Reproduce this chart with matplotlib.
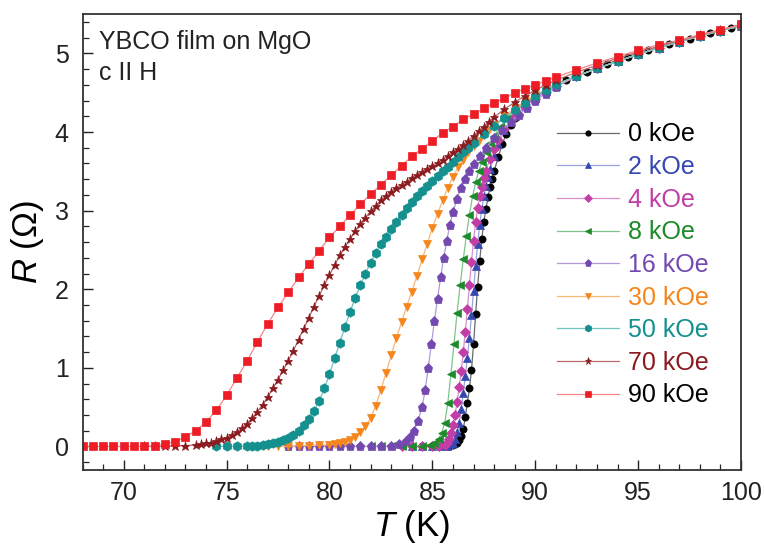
import matplotlib
matplotlib.use('Agg')
import matplotlib.pyplot as plt
from matplotlib.ticker import MultipleLocator

plt.rcParams['font.family'] = ['Liberation Sans', 'DejaVu Sans']
plt.rcParams['mathtext.fontset'] = 'custom'
plt.rcParams['mathtext.rm'] = 'Liberation Sans'
plt.rcParams['mathtext.it'] = 'Liberation Sans:italic'

# R(T) curves, one pair of lists per field
T_0 = [84.5, 85.0, 85.3, 85.6, 85.8, 86.0, 86.1, 86.2, 86.3, 86.4, 86.5, 86.6, 86.7, 86.8,
       86.9, 87.0, 87.1, 87.2, 87.3, 87.4, 87.5, 87.6, 87.7, 87.8, 87.9, 88.0, 88.2, 88.4,
       88.6, 88.8, 89.0, 89.5, 90.0, 90.5, 91.0, 91.5, 92.5, 93.5, 94.5, 95.5, 96.5, 97.5,
       98.5, 99.5]
R_0 = [0.0, 0.0, 0.0, 0.0, 0.01, 0.02, 0.03, 0.05, 0.08, 0.13, 0.22, 0.38, 0.55, 0.74,
       0.97, 1.30, 1.68, 2.03, 2.36, 2.64, 2.86, 3.02, 3.17, 3.30, 3.40, 3.50, 3.68, 3.85,
       3.98, 4.09, 4.18, 4.34, 4.45, 4.53, 4.60, 4.66, 4.77, 4.87, 4.96, 5.04, 5.12, 5.19,
       5.26, 5.33]

T_2 = [84.0, 84.5, 85.0, 85.4, 85.7, 85.9, 86.0, 86.1, 86.2, 86.3, 86.4, 86.5, 86.6, 86.7,
       86.8, 86.9, 87.0, 87.1, 87.2, 87.3, 87.4, 87.5, 87.6, 87.7, 87.8, 88.0, 88.2, 88.5,
       89.0, 89.5, 90.0, 90.5, 91.0]
R_2 = [0.0, 0.0, 0.0, 0.0, 0.01, 0.03, 0.05, 0.10, 0.18, 0.30, 0.47, 0.68, 0.90, 1.13,
       1.38, 1.67, 1.98, 2.30, 2.58, 2.82, 3.02, 3.18, 3.31, 3.43, 3.53, 3.70, 3.85, 4.02,
       4.20, 4.33, 4.43, 4.52, 4.59]

T_4 = [83.5, 84.0, 84.5, 85.0, 85.3, 85.6, 85.7, 85.8, 85.9, 86.0, 86.1, 86.2, 86.3, 86.4,
       86.5, 86.6, 86.7, 86.8, 86.9, 87.0, 87.1, 87.2, 87.3, 87.4, 87.5, 87.6, 87.8, 88.0,
       88.2, 88.5, 89.0, 89.5, 90.0, 90.5, 91.0]
R_4 = [0.0, 0.0, 0.0, 0.0, 0.01, 0.02, 0.05, 0.10, 0.17, 0.27, 0.40, 0.56, 0.75, 0.96,
       1.20, 1.46, 1.75, 2.05, 2.35, 2.62, 2.85, 3.03, 3.18, 3.30, 3.41, 3.51, 3.66, 3.79,
       3.90, 4.04, 4.20, 4.32, 4.42, 4.51, 4.59]

T_8 = [82.0, 82.5, 83.0, 83.5, 84.0, 84.5, 84.9, 85.1, 85.3, 85.45, 85.6, 85.75, 85.9,
       86.05, 86.2, 86.35, 86.5, 86.65, 86.8, 86.95, 87.1, 87.25, 87.4, 87.6, 87.8, 88.0,
       88.3, 88.6, 89.0, 89.5, 90.0, 90.5, 91.0]
R_8 = [0.0, 0.0, 0.0, 0.0, 0.0, 0.01, 0.02, 0.05, 0.10, 0.17, 0.30, 0.55, 0.92,
       1.30, 1.70, 2.05, 2.38, 2.68, 2.95, 3.18, 3.36, 3.50, 3.62, 3.75, 3.86, 3.95,
       4.07, 4.17, 4.27, 4.37, 4.46, 4.53, 4.60]

T_16 = [78.0, 78.5, 79.0, 79.5, 80.0, 80.5, 81.0, 81.5, 82.0, 82.5, 83.0, 83.4, 83.7, 83.9,
        84.1, 84.3, 84.5, 84.65, 84.8, 84.95, 85.1, 85.25, 85.4, 85.55, 85.7, 85.85, 86.0,
        86.2, 86.4, 86.6, 86.8, 87.0, 87.3, 87.6, 88.0, 88.4, 88.8, 89.2, 89.6, 90.0, 90.5,
        91.0]
R_16 = [0.0, 0.0, 0.0, 0.0, 0.0, 0.0, 0.0, 0.0, 0.0, 0.0, 0.01, 0.03, 0.07, 0.12,
        0.20, 0.32, 0.50, 0.72, 1.00, 1.30, 1.60, 1.88, 2.15, 2.40, 2.62, 2.82, 2.98,
        3.15, 3.29, 3.40, 3.50, 3.59, 3.70, 3.80, 3.92, 4.03, 4.13, 4.22, 4.31, 4.40, 4.49,
        4.57]

T_30 = [77.0, 77.5, 78.0, 78.5, 79.0, 79.5, 80.0, 80.25, 80.5, 80.75, 81.0, 81.25, 81.5,
        81.75, 82.0, 82.25, 82.5, 82.75, 83.0, 83.25, 83.5, 83.75, 84.0, 84.25, 84.5, 84.75,
        85.0, 85.25, 85.5, 85.75, 86.0, 86.25, 86.5, 86.75, 87.0, 87.25, 87.5, 87.75, 88.0,
        88.5, 89.0, 89.5, 90.0, 90.5, 91.0]
R_30 = [0.0, 0.0, 0.0, 0.01, 0.01, 0.02, 0.02, 0.03, 0.04, 0.06, 0.08, 0.12, 0.18,
        0.26, 0.36, 0.52, 0.72, 0.94, 1.16, 1.38, 1.58, 1.78, 1.97, 2.17, 2.38, 2.58,
        2.78, 2.96, 3.13, 3.29, 3.43, 3.55, 3.65, 3.74, 3.82, 3.89, 3.96, 4.03, 4.09,
        4.20, 4.30, 4.39, 4.47, 4.54, 4.60]

T_50 = [74.5, 75.0, 75.5, 76.0, 76.25, 76.5, 76.75, 77.0, 77.25, 77.5, 77.75, 78.0, 78.25,
        78.5, 78.75, 79.0, 79.25, 79.5, 79.75, 80.0, 80.25, 80.5, 80.75, 81.0, 81.25, 81.5,
        81.75, 82.0, 82.25, 82.5, 82.75, 83.0, 83.25, 83.5, 83.75, 84.0, 84.25, 84.5, 84.75,
        85.0, 85.25, 85.5, 85.75, 86.0, 86.25, 86.5, 86.75, 87.0, 87.5, 88.0, 88.5, 89.0,
        89.5, 90.0, 90.5, 91.0]
R_50 = [0.0, 0.0, 0.0, 0.0, 0.0, 0.01, 0.02, 0.03, 0.04, 0.06, 0.08, 0.11, 0.15,
        0.20, 0.27, 0.35, 0.45, 0.58, 0.74, 0.92, 1.12, 1.32, 1.52, 1.71, 1.89, 2.05,
        2.20, 2.34, 2.46, 2.57, 2.67, 2.77, 2.86, 2.95, 3.03, 3.11, 3.18, 3.25, 3.31,
        3.38, 3.44, 3.50, 3.56, 3.62, 3.68, 3.74, 3.80, 3.86, 3.97, 4.08, 4.18, 4.28,
        4.37, 4.46, 4.54, 4.61]

T_70 = [71.0, 71.5, 72.0, 72.5, 73.0, 73.5, 73.75, 74.0, 74.25, 74.5, 74.75, 75.0, 75.25,
        75.5, 75.75, 76.0, 76.25, 76.5, 76.75, 77.0, 77.25, 77.5, 77.75, 78.0, 78.25, 78.5,
        78.75, 79.0, 79.25, 79.5, 79.75, 80.0, 80.25, 80.5, 80.75, 81.0, 81.25, 81.5, 81.75,
        82.0, 82.25, 82.5, 82.75, 83.0, 83.25, 83.5, 83.75, 84.0, 84.25, 84.5, 84.75, 85.0,
        85.25, 85.5, 85.75, 86.0, 86.25, 86.5, 86.75, 87.0, 87.25, 87.5, 87.75, 88.0, 88.5,
        89.0, 89.5, 90.0, 90.5, 91.0, 92.0, 93.0, 94.0, 95.0, 96.0, 97.0, 98.0, 99.0, 100.0]
R_70 = [0.0, 0.0, 0.0, 0.01, 0.01, 0.02, 0.03, 0.04, 0.05, 0.07, 0.09, 0.11, 0.14,
        0.18, 0.23, 0.29, 0.36, 0.44, 0.53, 0.63, 0.74, 0.85, 0.97, 1.09, 1.22, 1.36,
        1.50, 1.64, 1.78, 1.92, 2.05, 2.18, 2.31, 2.43, 2.54, 2.64, 2.74, 2.83, 2.91,
        2.99, 3.06, 3.13, 3.19, 3.24, 3.29, 3.33, 3.37, 3.41, 3.45, 3.49, 3.53, 3.57,
        3.61, 3.65, 3.70, 3.74, 3.79, 3.84, 3.89, 3.95, 4.01, 4.07, 4.13, 4.19, 4.29,
        4.38, 4.46, 4.53, 4.60, 4.66, 4.76, 4.85, 4.94, 5.02, 5.09, 5.16, 5.23, 5.30, 5.37]

T_90 = [68.0, 68.5, 69.0, 69.5, 70.0, 70.5, 71.0, 71.5, 72.0, 72.5, 73.0, 73.5, 74.0, 74.5,
        75.0, 75.5, 76.0, 76.5, 77.0, 77.5, 78.0, 78.5, 79.0, 79.5, 80.0, 80.5, 81.0, 81.5,
        82.0, 82.5, 83.0, 83.5, 84.0, 84.5, 85.0, 85.5, 86.0, 86.5, 87.0, 87.5, 88.0, 88.5,
        89.0, 89.5, 90.0, 90.5, 91.0, 92.0, 93.0, 94.0, 95.0, 96.0, 97.0, 98.0, 99.0, 100.0]
R_90 = [0.0, 0.0, 0.0, 0.0, 0.0, 0.0, 0.0, 0.01, 0.03, 0.06, 0.12, 0.20, 0.31, 0.46,
        0.65, 0.87, 1.09, 1.33, 1.56, 1.77, 1.96, 2.15, 2.32, 2.49, 2.66, 2.80, 2.94, 3.08,
        3.21, 3.33, 3.45, 3.57, 3.69, 3.79, 3.89, 3.99, 4.07, 4.16, 4.23, 4.30, 4.37, 4.43,
        4.50, 4.55, 4.60, 4.65, 4.70, 4.79, 4.88, 4.96, 5.04, 5.11, 5.17, 5.24, 5.30, 5.37]

# normal-state points shared by the curves that stop at 91 K
T_tail = [92.0, 93.0, 94.0, 95.0, 96.0, 97.0, 98.0, 99.0, 100.0]
R_tail = [4.71, 4.81, 4.90, 4.99, 5.07, 5.15, 5.22, 5.29, 5.35]

labels = ['0 kOe', '2 kOe', '4 kOe', '8 kOe', '16 kOe', '30 kOe', '50 kOe', '70 kOe', '90 kOe']
temps = [T_0, T_2 + T_tail, T_4 + T_tail, T_8 + T_tail, T_16 + T_tail, T_30 + T_tail,
         T_50 + T_tail, T_70, T_90]
resist = [R_0, R_2 + R_tail, R_4 + R_tail, R_8 + R_tail, R_16 + R_tail, R_30 + R_tail,
          R_50 + R_tail, R_70, R_90]

mk_colors = ['#000000', '#3548b0', '#c23ea6', '#1d8a2b', '#7349b0', '#f5861c', '#14908f',
             '#8a1a1e', '#ee1c25']
ln_colors = ['#6a6a6a', '#9aa4e0', '#d98fca', '#7fc48b', '#b39bd9', '#f8b877', '#6fc3c2',
             '#b96a6c', '#f5868a']
txt_colors = mk_colors[:8] + ['#000000']
markers = ['o', '^', 'D', '<', 'p', 'v', 'h', '*', 's']
msizes = [5.2, 5.8, 5.0, 5.8, 6.8, 5.8, 6.8, 6.8, 5.2]

fig, ax = plt.subplots(figsize=(7.64, 5.44), dpi=100)
fig.subplots_adjust(left=0.108, right=0.970, top=0.974, bottom=0.136)

for T, R, lab, mc, lc, m, ms in zip(temps, resist, labels, mk_colors, ln_colors, markers, msizes):
    ax.plot(T, R, color=lc, lw=0.9, marker=m, ms=ms, mfc=mc, mec=mc, mew=0.5, label=lab)

ax.set_xlim(68, 100)
ax.set_ylim(-0.3, 5.5)
ax.xaxis.set_major_locator(MultipleLocator(5))
ax.xaxis.set_minor_locator(MultipleLocator(1))
ax.yaxis.set_major_locator(MultipleLocator(1))
ax.yaxis.set_minor_locator(MultipleLocator(0.2))
ax.tick_params(which='both', direction='in', top=False, right=False, labelsize=18,
               colors='#222222')
ax.tick_params(axis='x', which='major', length=7, width=1, pad=8)
ax.tick_params(axis='y', which='major', length=7, width=1, pad=10)
ax.tick_params(which='minor', length=4, width=0.9)
for sp in ax.spines.values():
    sp.set_linewidth(1.3)
    sp.set_color('#333333')

ax.set_xlabel(r'$\mathit{T}$ (K)', fontsize=25, labelpad=2)
ax.set_ylabel(r'$\mathit{R}$ ($\Omega$)', fontsize=25, labelpad=6)

ax.text(0.025, 0.965, 'YBCO film on MgO\nc II H', transform=ax.transAxes,
        fontsize=18, va='top', ha='left', linespacing=1.35, color='#222222')

leg = ax.legend(loc='upper left', bbox_to_anchor=(0.701, 0.79), frameon=False, fontsize=18,
                handlelength=2.5, handletextpad=0.35, labelspacing=0.345, markerscale=0.75,
                numpoints=1, borderpad=0)
for txt, c in zip(leg.get_texts(), txt_colors):
    txt.set_color(c)

fig.savefig('out.png', dpi=100)
